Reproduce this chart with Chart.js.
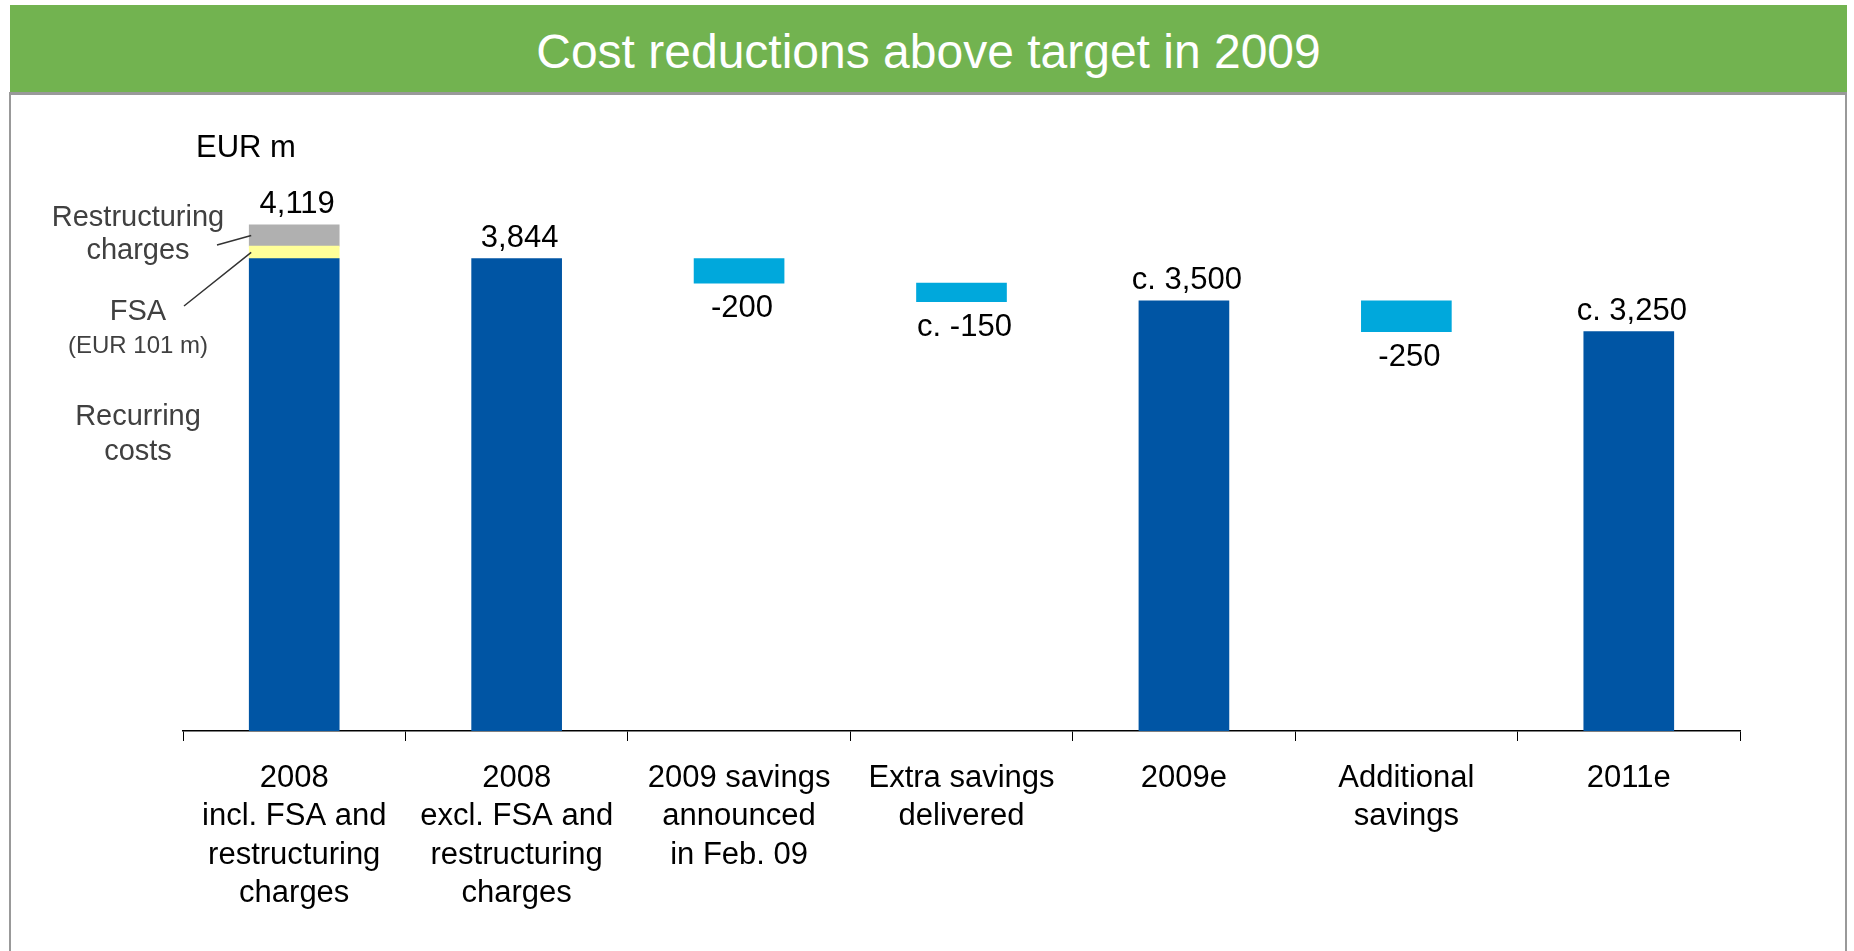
<!DOCTYPE html>
<html>
<head>
<meta charset="utf-8">
<title>Cost reductions above target in 2009</title>
<script src="https://cdn.jsdelivr.net/npm/chart.js@4.4.1/dist/chart.umd.min.js"></script>
<style>
  body {
    margin: 0;
    width: 1854px;
    height: 951px;
    overflow: hidden;
    background: #fff;
    font-family: "Liberation Sans", Arial, sans-serif;
  }
  .header {
    position: absolute;
    left: 10px;
    top: 5px;
    width: 1837px;
    height: 87px;
    background: #72b350;
    color: #fff;
    font-size: 48px;
    line-height: 87px;
    text-align: center;
  }
  .header span { position: relative; top: 3px; }
  .frame {
    position: absolute;
    left: 9px;
    top: 92px;
    width: 1834px;
    height: 870px;
    border: 2px solid #999;
    border-top-width: 3px;
    border-bottom: none;
  }
  #costChart { position: absolute; left: 0; top: 0; }
</style>
</head>
<body>
<div class="header"><span>Cost reductions above target in 2009</span></div>
<div class="frame"></div>
<canvas id="costChart" width="1854" height="951"></canvas>

<script>
const FONT = "'Liberation Sans', Arial, sans-serif";

// categories (multi-line axis labels)
const categories = [
  ["2008", "incl. FSA and", "restructuring", "charges"],
  ["2008", "excl. FSA and", "restructuring", "charges"],
  ["2009 savings", "announced", "in Feb. 09"],
  ["Extra savings", "delivered"],
  ["2009e"],
  ["Additional", "savings"],
  ["2011e"]
];

// EUR m
const recurringCosts = [3844, 3844, null, null, 3500, null, 3250];
const fsaCosts = [101, null, null, null, null, null, null];
const restructuringCharges = [174, null, null, null, null, null, null];
const savings = [null, null, -200, -150, null, -250, null];
const approximate = [false, false, false, true, true, false, true];

// totals on top of each cost column
const totals = recurringCosts.map((v, i) =>
  v == null ? null : v + (fsaCosts[i] || 0) + (restructuringCharges[i] || 0)
);

// savings hang from the previous cost level
let level = 0;
const savingsBars = savings.map((d, i) => {
  if (d == null) {
    if (recurringCosts[i] != null) level = recurringCosts[i];
    return null;
  }
  const bar = [level + d, level];
  level += d;
  return bar;
});

const fsaBars = fsaCosts.map((v, i) => v == null ? null : [recurringCosts[i], recurringCosts[i] + v]);
const restructuringBars = restructuringCharges.map((v, i) =>
  v == null ? null : [recurringCosts[i] + (fsaCosts[i] || 0), totals[i]]
);

const prefix = (i) => (approximate[i] ? "c. " : "");

// value labels, side notes and leader lines
const costLabels = {
  id: "costLabels",
  afterDatasetsDraw(chart) {
    const { ctx, scales: { x, y } } = chart;
    ctx.save();
    ctx.textAlign = "center";
    ctx.textBaseline = "alphabetic";
    ctx.fillStyle = "#000";
    ctx.font = "31px " + FONT;

    totals.forEach((v, i) => {
      if (v == null) return;
      ctx.fillText(prefix(i) + v.toLocaleString("en-US"), x.getPixelForValue(i) + 3, y.getPixelForValue(v) - 12);
    });
    savingsBars.forEach((b, i) => {
      if (!b) return;
      ctx.fillText(prefix(i) + savings[i], x.getPixelForValue(i) + 3, y.getPixelForValue(b[0]) + 34);
    });

    // unit
    ctx.textAlign = "left";
    ctx.fillText("EUR m", 196, 157);

    // notes beside the first column
    ctx.textAlign = "center";
    ctx.fillStyle = "#404040";
    ctx.font = "29px " + FONT;
    ctx.fillText("Restructuring", 138, 226);
    ctx.fillText("charges", 138, 259);
    ctx.fillText("FSA", 138, 320);
    ctx.fillText("Recurring", 138, 425);
    ctx.fillText("costs", 138, 460);
    ctx.font = "24px " + FONT;
    ctx.fillText("(EUR 101 m)", 138, 353);

    const restr = chart.getDatasetMeta(2).data[0];
    const fsa = chart.getDatasetMeta(1).data[0];
    const left = restr.x - restr.width / 2 + 2;
    ctx.strokeStyle = "#333";
    ctx.lineWidth = 1.5;
    ctx.beginPath();
    ctx.moveTo(217, 245);
    ctx.lineTo(left, (restr.y + restr.base) / 2);
    ctx.moveTo(184, 306);
    ctx.lineTo(left, (fsa.y + fsa.base) / 2);
    ctx.stroke();
    ctx.restore();
  }
};

Chart.defaults.font.family = FONT;

const ctx = document.getElementById("costChart").getContext("2d");
const costChart = new Chart(ctx, {
  type: "bar",
  data: {
    labels: categories,
    datasets: [
      {
        label: "Recurring costs",
        data: recurringCosts.map((v) => (v == null ? null : [0, v])),
        backgroundColor: "#0055a4"
      },
      {
        label: "FSA",
        data: fsaBars,
        backgroundColor: "#ffff99"
      },
      {
        label: "Restructuring charges",
        data: restructuringBars,
        backgroundColor: "#b0b0b0"
      },
      {
        label: "Savings",
        data: savingsBars,
        backgroundColor: "#00a8dc"
      }
    ].map((ds) => Object.assign(ds, { grouped: false, barThickness: 90, borderWidth: 0 }))
  },
  options: {
    responsive: false,
    animation: false,
    layout: { padding: { left: 183, right: 114, top: 178, bottom: 0 } },
    plugins: {
      legend: { display: false },
      tooltip: { enabled: false }
    },
    scales: {
      x: {
        offset: true,
        grid: {
          display: true,
          offset: true,
          drawOnChartArea: false,
          drawTicks: true,
          tickLength: 10,
          color: "#000",
          lineWidth: 1
        },
        border: { display: true, color: "#000", width: 1.5 },
        ticks: {
          color: "#000",
          font: { size: 31, lineHeight: 1.242 },
          padding: 18,
          maxRotation: 0,
          autoSkip: false
        },
        afterFit(scale) {
          scale.height = 220;
        }
      },
      y: {
        display: false,
        min: 0,
        max: 4500
      }
    }
  },
  plugins: [costLabels]
});
</script>
</body>
</html>
